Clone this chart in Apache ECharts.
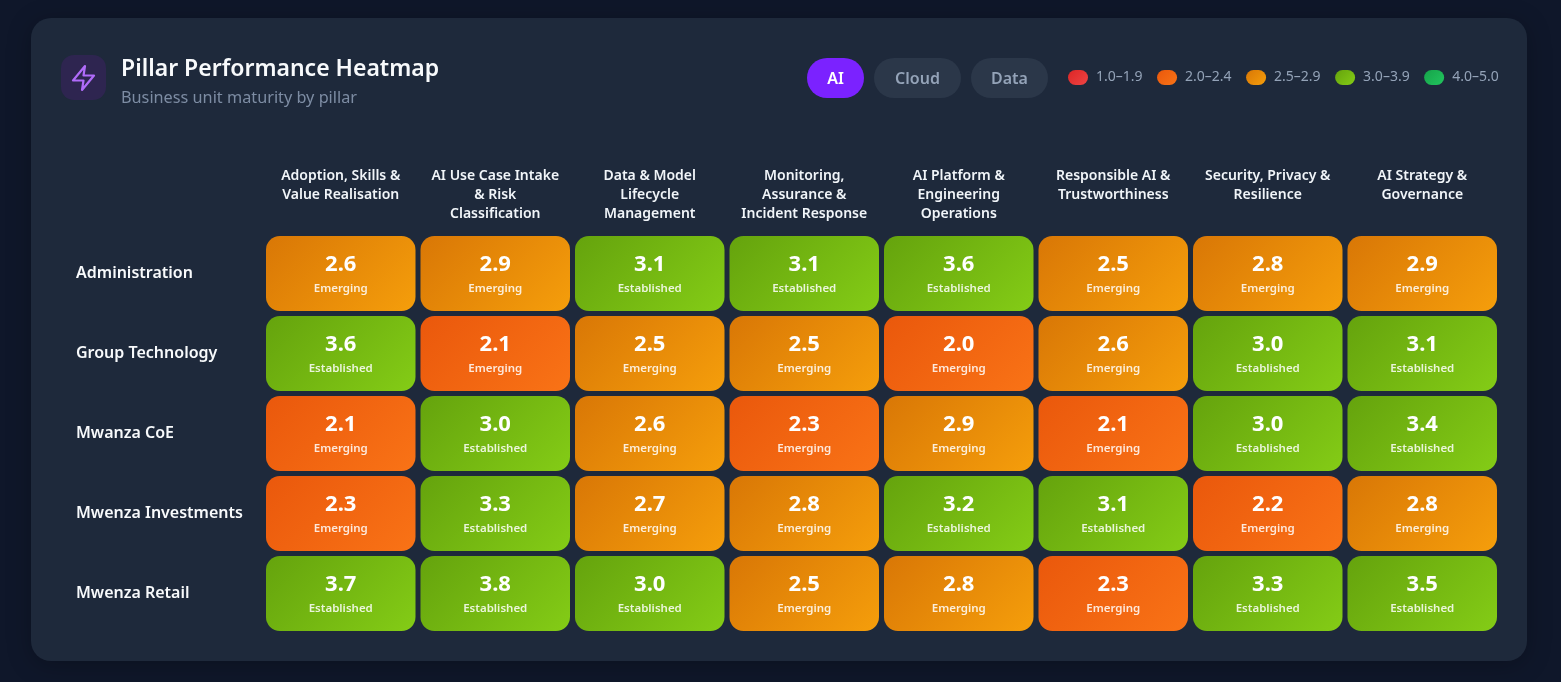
<!DOCTYPE html>
<html lang="en">
<head>
<meta charset="UTF-8">
<title>Pillar Performance Heatmap</title>
<style>
    html, body {margin:0; padding:0; background:#0f172a}
    #chart {width:1561px; height:682px}
</style>
<script src="https://cdn.jsdelivr.net/npm/echarts@6/dist/echarts.min.js"></script>
</head>
<body>
<div id="chart"></div>
<script>
const FONT = '"Noto Sans", sans-serif'

const pillars = [
    'Adoption, Skills &\nValue Realisation',
    'AI Use Case Intake\n& Risk\nClassification',
    'Data & Model\nLifecycle\nManagement',
    'Monitoring,\nAssurance &\nIncident Response',
    'AI Platform &\nEngineering\nOperations',
    'Responsible AI &\nTrustworthiness',
    'Security, Privacy &\nResilience',
    'AI Strategy &\nGovernance'
]
const units = ['Administration', 'Group Technology', 'Mwanza CoE', 'Mwenza Investments', 'Mwenza Retail']

const administration = [2.6, 2.9, 3.1, 3.1, 3.6, 2.5, 2.8, 2.9]
const groupTechnology = [3.6, 2.1, 2.5, 2.5, 2.0, 2.6, 3.0, 3.1]
const mwanzaCoe = [2.1, 3.0, 2.6, 2.3, 2.9, 2.1, 3.0, 3.4]
const mwenzaInvestments = [2.3, 3.3, 2.7, 2.8, 3.2, 3.1, 2.2, 2.8]
const mwenzaRetail = [3.7, 3.8, 3.0, 2.5, 2.8, 2.3, 3.3, 3.5]
const scores = [administration, groupTechnology, mwanzaCoe, mwenzaInvestments, mwenzaRetail]

const bandNames = ['1.0–1.9', '2.0–2.4', '2.5–2.9', '3.0–3.9', '4.0–5.0']
const bandFloors = [1.0, 2.0, 2.5, 3.0, 4.0]
const bandLabels = ['Initial', 'Emerging', 'Emerging', 'Established', 'Leading']
const bandFrom = ['#dc2626', '#ea580c', '#d97706', '#65a30d', '#16a34a']
const bandTo = ['#ef4444', '#f97316', '#f59e0b', '#84cc16', '#22c55e']

const tabs = ['AI', 'Cloud', 'Data']

function bandOf(v) {
    let b = 0
    bandFloors.forEach((f, i) => { if (v >= f) b = i })
    return b
}

// same direction as a css 135deg gradient on a w x h box
function cssGradient(w, h, from, to) {
    let dx = (w + h) / (4 * w)
    let dy = (w + h) / (4 * h)
    return new echarts.graphic.LinearGradient(0.5 - dx, 0.5 - dy, 0.5 + dx, 0.5 + dy, [
        { offset: 0, color: from },
        { offset: 1, color: to }
    ])
}

function cellSeries(name, b) {
    let data = []
    scores.forEach((row, y) => row.forEach((v, x) => {
        if (bandOf(v) === b) data.push([x, y, v])
    }))
    return {
        name: name,
        type: 'custom',
        coordinateSystem: 'cartesian2d',
        encode: { x: 0, y: 1 },
        itemStyle: { color: cssGradient(20, 15, bandFrom[b], bandTo[b]) },
        data: data,
        renderItem: function (params, api) {
            let c = api.coord([api.value(0), api.value(1)])
            let s = api.size([1, 1])
            let w = s[0] - 5
            let h = s[1] - 5
            let x = c[0] - w / 2
            let y = c[1] - h / 2
            return {
                type: 'group',
                children: [
                    {
                        type: 'rect',
                        shape: { x: x, y: y, width: w, height: h, r: 14 },
                        style: { fill: cssGradient(w, h, bandFrom[b], bandTo[b]) }
                    },
                    {
                        type: 'text',
                        style: {
                            x: c[0], y: y + 29,
                            text: api.value(2).toFixed(1),
                            fill: '#fff', font: '700 22px ' + FONT,
                            align: 'center', verticalAlign: 'middle'
                        }
                    },
                    {
                        type: 'text',
                        style: {
                            x: c[0], y: y + 53,
                            text: bandLabels[b],
                            fill: 'rgba(255,255,255,0.85)', font: '600 11.5px ' + FONT,
                            align: 'center', verticalAlign: 'middle'
                        }
                    }
                ]
            }
        }
    }
}

// header bits: card, icon, tab pills
let tabBoxes = [[807, 57], [874, 87], [971, 77]]
let tabGraphics = tabs.map((t, i) => ({
    type: 'group',
    children: [
        {
            type: 'rect',
            shape: { x: tabBoxes[i][0], y: 58, width: tabBoxes[i][1], height: 40, r: 20 },
            style: { fill: i === 0 ? '#7b22ff' : '#2b3749' }
        },
        {
            type: 'text',
            style: {
                x: tabBoxes[i][0] + tabBoxes[i][1] / 2, y: 79,
                text: t,
                fill: i === 0 ? '#fff' : '#94a3b8',
                font: '600 16px ' + FONT,
                align: 'center', verticalAlign: 'middle'
            }
        }
    ]
}))

let chart = echarts.init(document.getElementById('chart'))

chart.setOption({
    backgroundColor: '#0f172a',
    animation: false,
    title: {
        left: 121,
        top: 53,
        padding: 0,
        text: 'Pillar Performance Heatmap',
        subtext: 'Business unit maturity by pillar',
        itemGap: 3,
        textStyle: { color: '#f8fafc', fontFamily: FONT, fontSize: 23, fontWeight: 600, lineHeight: 32 },
        subtextStyle: { color: '#7d8ca3', fontFamily: FONT, fontSize: 16.25, lineHeight: 20 }
    },
    legend: {
        left: 1068,
        top: 70,
        padding: 0,
        icon: 'path://M7.5 0H12.5A7.5 7.5 0 0 1 12.5 15H7.5A7.5 7.5 0 0 1 7.5 0Z',
        itemWidth: 20,
        itemHeight: 15,
        itemGap: 14.5,
        selectedMode: false,
        data: bandNames,
        textStyle: { color: '#94a3b8', fontFamily: FONT, fontSize: 14, padding: [2, 0, 0, 3] }
    },
    grid: { left: 263.5, top: 233.5, width: 1236, height: 400, containLabel: false },
    xAxis: {
        type: 'category',
        position: 'top',
        data: pillars,
        axisLine: { show: false },
        axisTick: { show: false },
        splitLine: { show: false },
        axisLabel: {
            interval: 0,
            margin: 67,
            verticalAlign: 'top',
            align: 'center',
            color: '#f1f5f9',
            fontFamily: FONT,
            fontSize: 14,
            fontWeight: 600,
            lineHeight: 19
        }
    },
    yAxis: {
        type: 'category',
        inverse: true,
        data: units,
        axisLine: { show: false },
        axisTick: { show: false },
        splitLine: { show: false },
        axisLabel: {
            interval: 0,
            margin: 187.5,
            align: 'left',
            color: '#f8fafc',
            fontFamily: FONT,
            fontSize: 16,
            fontWeight: 600,
            padding: [6, 0, 0, 0]
        }
    },
    graphic: [
        {
            type: 'rect',
            z: -5,
            shape: { x: 31, y: 18, width: 1496, height: 643, r: 20 },
            style: { fill: '#1e293b', shadowBlur: 24, shadowColor: 'rgba(0,0,0,0.25)', shadowOffsetY: 4 }
        },
        {
            type: 'rect',
            shape: { x: 61, y: 55, width: 45, height: 45, r: 13 },
            style: { fill: '#2e2550' }
        },
        {
            type: 'polygon',
            shape: { points: [[85, 66], [73, 80.5], [83.5, 80.5], [82, 90], [94, 75.5], [83.5, 75.5]] },
            style: { fill: 'none', stroke: '#b06bf9', lineWidth: 2.2, lineJoin: 'round' }
        }
    ].concat(tabGraphics),
    series: bandNames.map(cellSeries)
})
</script>
</body>
</html>
